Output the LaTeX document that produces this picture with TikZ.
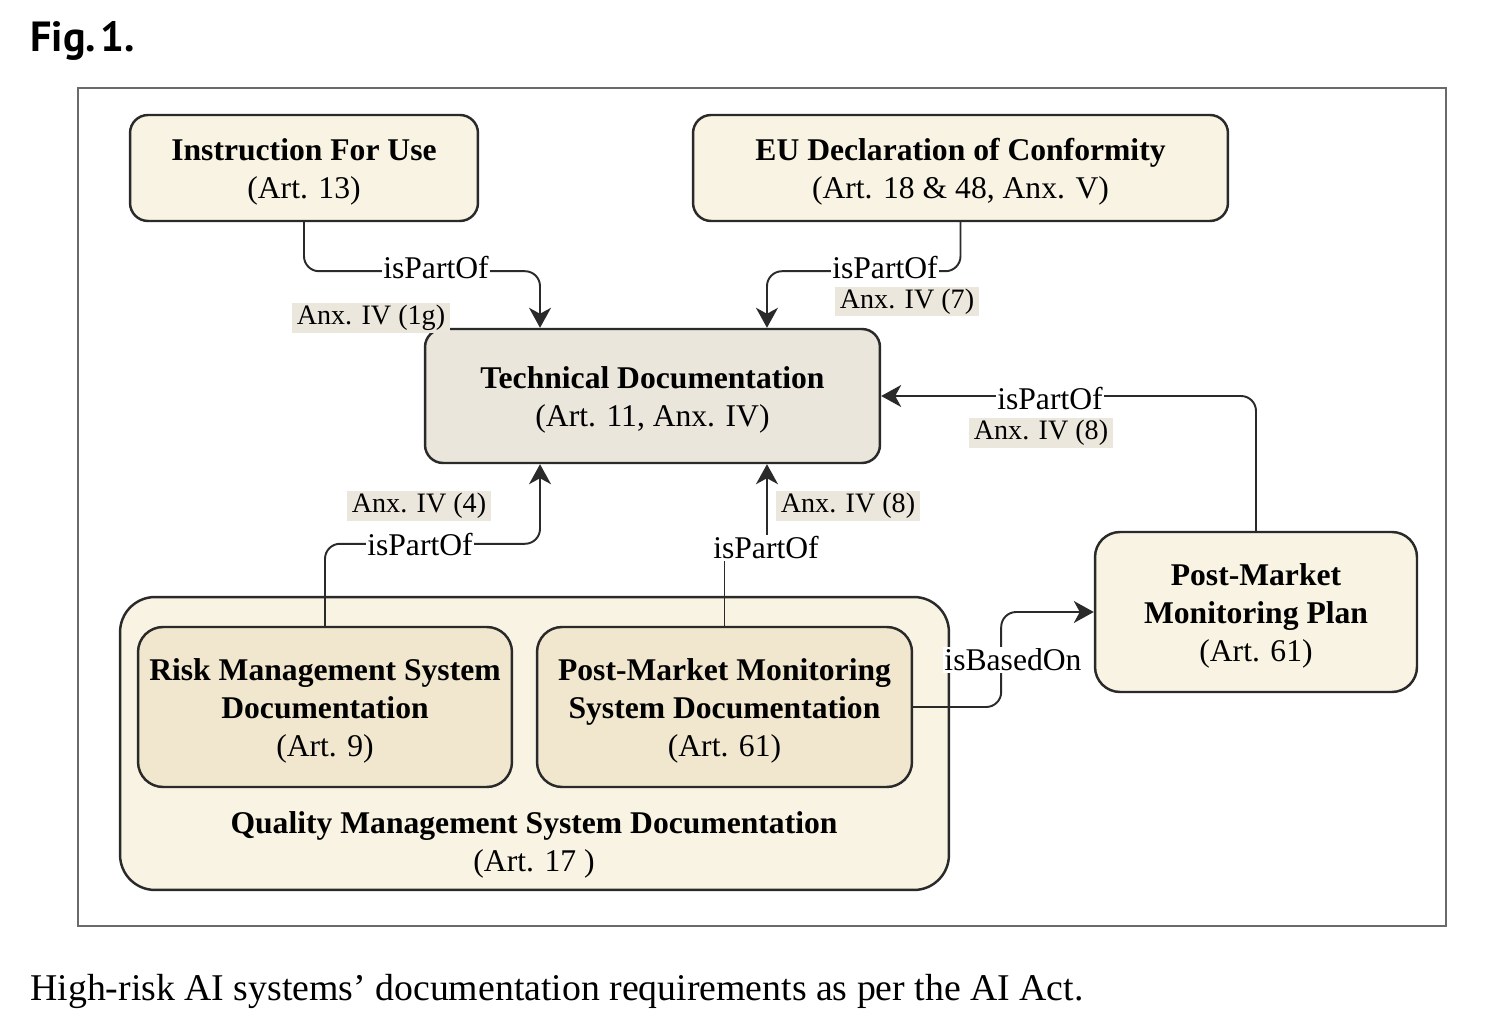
\documentclass[tikz,border=0pt]{standalone}
\usepackage{fontspec}
\setmainfont{Liberation Serif}
\newfontfamily\figfont{PT Sans}
\usetikzlibrary{arrows.meta}

\definecolor{cream}{HTML}{F8F3E2}
\definecolor{techfill}{HTML}{EAE6DC}
\definecolor{innerfill}{HTML}{F1E7CE}
\definecolor{anxfill}{HTML}{EBE7DC}
\definecolor{boxline}{HTML}{2A2A2A}
\definecolor{framegray}{HTML}{6A6A6A}

% taller first line, so the lines sit a little lower in their box
\newcommand{\firstline}{\rule{0pt}{17pt}}

\tikzset{
	docbox/.style={draw=boxline, line width=1.4pt, rounded corners=0.36cm, align=center,
		inner sep=0pt, font=\fontsize{18}{21.8}\selectfont},
	conn/.style={draw=boxline, line width=1.1pt, rounded corners=0.3cm,
		-{Stealth[length=0.4cm, width=0.44cm, inset=0.12cm]}},
	lbl/.style={fill=white, inner sep=1pt, font=\fontsize{18}{20}\selectfont},
	anx/.style={fill=anxfill, inner xsep=3pt, inner ysep=1pt, font=\fontsize{16}{18}\selectfont}
}

\begin{document}
\begin{tikzpicture}[x=0.02cm, y=-0.02cm]
		%%%%% START %%%%%
		
		\path[use as bounding box, fill=white] (0, 0) rectangle (1492, 1030);
		
		\node[anchor=base west, inner sep=0pt, font=\figfont\bfseries\fontsize{24}{26}\selectfont] (fig) at (30, 52) {Fig.\hspace{0.1em}1.};
		\draw[framegray, line width=0.8pt] (78, 88) rectangle (1446, 926);
		
		% quality management system with its two parts
		\node[docbox, fill=cream, rounded corners=0.7cm, minimum width=16.58cm, minimum height=5.86cm] (qms) at (534.5, 743.5) {};
		\node[align=center, font=\fontsize{18}{21.8}\selectfont] (qmstext) at (534, 841) {\firstline\textbf{Quality Management System Documentation}\\(Art. 17 )};
		\node[docbox, fill=innerfill, rounded corners=0.5cm, minimum width=7.48cm, minimum height=3.2cm] (rms) at (325, 707) {\firstline\textbf{Risk Management System}\\\textbf{Documentation}\\(Art. 9)};
		\node[docbox, fill=innerfill, rounded corners=0.5cm, minimum width=7.5cm, minimum height=3.2cm] (pmms) at (724.5, 707) {\firstline\textbf{Post-Market Monitoring}\\\textbf{System Documentation}\\(Art. 61)};
		
		\node[docbox, fill=cream, minimum width=6.96cm, minimum height=2.12cm] (ifu) at (304, 168) {\firstline\textbf{Instruction For Use}\\(Art. 13)};
		\node[docbox, fill=cream, minimum width=10.7cm, minimum height=2.12cm] (doc) at (960.5, 168) {\firstline\textbf{EU Declaration of Conformity}\\(Art. 18 \& 48, Anx. V)};
		\node[docbox, fill=techfill, minimum width=9.1cm, minimum height=2.68cm] (tech) at (652.5, 396) {\firstline\textbf{Technical Documentation}\\(Art. 11, Anx. IV)};
		\node[docbox, fill=cream, rounded corners=0.5cm, minimum width=6.44cm, minimum height=3.2cm] (pmp) at (1256, 612) {\firstline\textbf{Post-Market}\\\textbf{Monitoring Plan}\\(Art. 61)};
		
		% connectors
		\draw[conn] (ifu.south) -- ++(0, 49) -| ([xshift=-2.25cm]tech.north);
		\draw[conn] (doc.south) -- ++(0, 49) -| ([xshift=2.29cm]tech.north);
		\draw[conn] (pmp.north) |- (tech.east);
		\draw[conn] (rms.north) -- ++(0, -82) -| ([xshift=-2.25cm]tech.south);
		\draw[conn, sharp corners] (pmms.north) -- ++(0, -79) -| ([xshift=2.29cm]tech.south);
		\draw[conn] (pmms.east) -- ++(88, 0) |- (pmp.west);
		
		% labels
		\node[lbl] (ifupart) at (436, 268) {isPartOf};
		\node[anx] (ifuanx) at (371, 318) {Anx. IV (1g)};
		\node[lbl] (docpart) at (885, 268) {isPartOf};
		\node[anx] (docanx) at (907, 302) {Anx. IV (7)};
		\node[lbl] (pmppart) at (1050, 399) {isPartOf};
		\node[anx] (pmpanx) at (1041, 433) {Anx. IV (8)};
		\node[lbl] (rmspart) at (420, 545) {isPartOf};
		\node[anx] (rmsanx) at (419, 506) {Anx. IV (4)};
		\node[lbl] (pmmspart) at (766, 548) {isPartOf};
		\node[anx] (pmmsanx) at (848, 506) {Anx. IV (8)};
		\node[lbl] (basedon) at (1013, 660) {isBasedOn};
		
		\node[anchor=base west, inner sep=0pt, font=\fontsize{21.5}{24}\selectfont] (caption) at (30, 1000) {High-risk AI systems’ documentation requirements as per the AI Act.};
		
		%%%%% END %%%%%
	\end{tikzpicture}
\end{document}
